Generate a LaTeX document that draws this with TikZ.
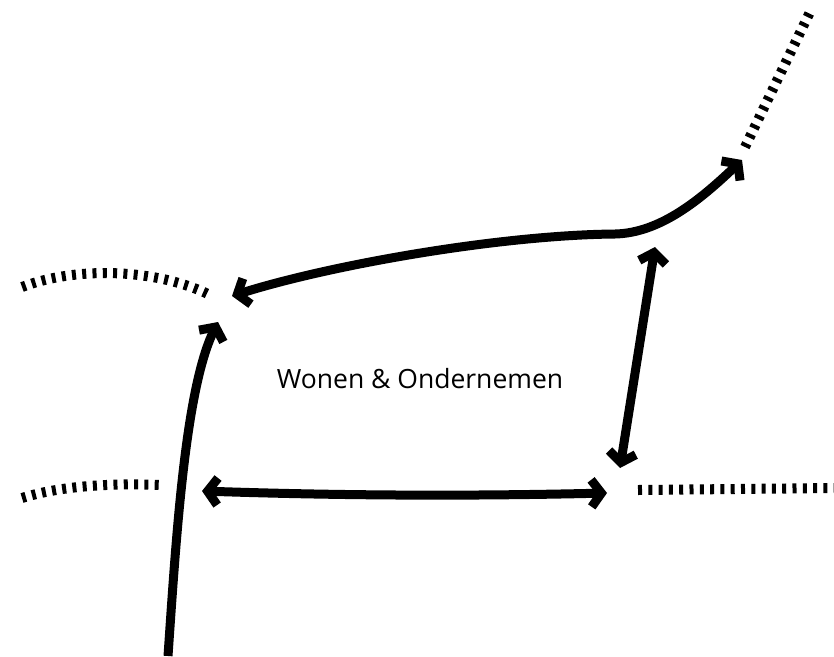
\documentclass[tikz,border=0pt]{standalone}
\usepackage{fontspec}
\setmainfont{Open Sans}
\usetikzlibrary{arrows.meta}

\begin{document}
\begin{tikzpicture}[x=1pt, y=-1pt,
  road/.style={line width=9pt, >={Straight Barb[length=10pt, width=27pt]}},
  track/.style={line width=10pt, dash pattern=on 4pt off 6.3pt}]
\useasboundingbox (0,0) rectangle (834,656);
\coordinate (1) at (168,656);
\coordinate (2) at (218,322);
\coordinate (3) at (232,296);
\coordinate (4) at (615,234);
\coordinate (5) at (742,160);
\coordinate (6) at (655,247);
\coordinate (7) at (620,468);
\coordinate (8) at (202,491);
\coordinate (9) at (607,493);
\node[font=\fontsize{26.5}{32}\selectfont, anchor=base] (wo) at (420,388) {Wonen \& Ondernemen};
\draw[road, ->] (1) .. controls (176,540) and (185,390) .. (2);
\draw[road, <->] (3) .. controls (330,265) and (500,235) .. (4) .. controls (660,233) and (700,200) .. (5);
\draw[road, <->] (6) -- (7);
\draw[road, <->] (8) .. controls (350,496) and (480,496) .. (9);
\draw[track] (22,287) .. controls (80,265) and (160,270) .. (210,295);
\draw[track] (22,498) .. controls (60,486) and (110,483) .. (160,485);
\draw[track] (638,490) -- (834,488);
\draw[track] (745,147) -- (810,12);
\end{tikzpicture}
\end{document}
